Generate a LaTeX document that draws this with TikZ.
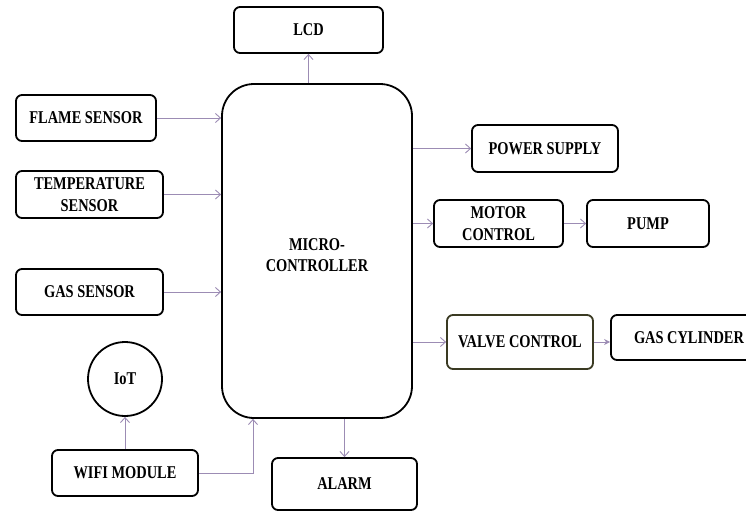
\documentclass[tikz,border=0pt]{standalone}
\usepackage{fontspec}
\setmainfont{Liberation Serif}[FakeStretch=0.8]
\usetikzlibrary{arrows.meta}
\definecolor{arrcol}{HTML}{9C8CB4}
\definecolor{olive}{HTML}{3A3A22}
\begin{document}
\begin{tikzpicture}[x=1pt,y=-1pt,
  blk/.style={draw=black,line width=1.8pt,rounded corners=6pt,inner sep=0pt,align=center,
    font=\bfseries\fontsize{18}{21.5}\selectfont},
  arr/.style={draw=arrcol,line width=0.9pt,-{Straight Barb[length=5pt,width=9pt,line width=0.9pt]}}]
\clip (0,0) rectangle (746,512);
\fill[white] (0,0) rectangle (746,512);
\node[blk,minimum width=149pt,minimum height=46pt] (lcd) at (308.5,30) {LCD};
\node[blk,rounded corners=32pt,minimum width=190pt,minimum height=334pt] (mc) at (317,251) {};
\node[font=\bfseries\fontsize{18}{21.5}\selectfont,align=center] (mct) at (317,255) {MICRO-\\CONTROLLER};
\node[blk,minimum width=140pt,minimum height=46pt] (flame) at (86,118) {FLAME SENSOR};
\node[blk,minimum width=147pt,minimum height=47pt] (temp) at (89.5,194.5) {TEMPERATURE\\SENSOR};
\node[blk,minimum width=147pt,minimum height=46pt] (gas) at (89.5,292) {GAS SENSOR};
\node[blk,circle,minimum size=74pt] (iot) at (125,379) {IoT};
\node[blk,minimum width=146pt,minimum height=46pt] (wifi) at (125,473) {WIFI MODULE};
\node[blk,minimum width=145pt,minimum height=52pt] (alarm) at (344.5,484) {ALARM};
\node[blk,minimum width=146pt,minimum height=47pt] (power) at (545,148.5) {POWER SUPPLY};
\node[blk,minimum width=129pt,minimum height=47pt] (motor) at (498.5,223.5) {MOTOR\\CONTROL};
\node[blk,minimum width=122pt,minimum height=47pt] (pump) at (648,223.5) {PUMP};
\node[blk,draw=olive,minimum width=146pt,minimum height=54pt] (valve) at (520,342) {VALVE CONTROL};
\node[blk,minimum width=156pt,minimum height=45pt] (gascyl) at (689,337.5) {GAS CYLINDER};
\coordinate (wcorner) at (253,473);
% connectors
\draw[arr] (mc.north -| lcd.south) -- (lcd.south);
\draw[arr] (flame.east) -- (flame.east -| mc.west);
\draw[arr] (temp.east) -- (temp.east -| mc.west);
\draw[arr] (gas.east) -- (gas.east -| mc.west);
\draw[arr] (wifi.east) -- (wcorner) -- (wcorner |- mc.south);
\draw[arr] (wifi.north) -- (iot.south);
\draw[arr] (alarm.north |- mc.south) -- (alarm.north);
\draw[arr] (mc.east |- power.west) -- (power.west);
\draw[arr] (mc.east |- motor.west) -- (motor.west);
\draw[arr] (motor.east) -- (pump.west);
\draw[arr] (mc.east |- valve.west) -- (valve.west);
\draw[arr,-{Stealth[length=6pt,width=6pt]}] (valve.east) -- (valve.east -| gascyl.west);
\end{tikzpicture}
\end{document}
